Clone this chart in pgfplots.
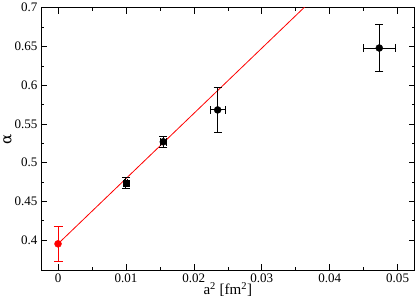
\documentclass[border=0pt]{standalone}
\usepackage{pgfplots}
\pgfplotsset{compat=1.18}
\usepackage{fontspec}
\setmainfont{Liberation Serif}
\begin{document}
\begin{tikzpicture}
\begin{axis}[
  scale only axis,
  width=373pt, height=262pt,
  xmin=-0.0025, xmax=0.0525,
  ymin=0.361, ymax=0.7,
  scaled x ticks=false, scaled y ticks=false,
  /pgf/number format/assume math mode=true,
  xtick={0,0.01,0.02,0.03,0.04,0.05},
  xticklabels={0,0.01,0.02,0.03,0.04,0.05},
  ytick={0.4,0.45,0.5,0.55,0.6,0.65,0.7},
  yticklabels={0.4,0.45,0.5,0.55,0.6,0.65,0.7},
  tick label style={font=\fontsize{13}{15}\selectfont},
  label style={font=\fontsize{15}{17}\selectfont},
  minor x tick num=1,
  minor y tick num=1,
  tick align=inside,
  major tick length=6pt,
  minor tick length=3pt,
  xlabel={a\textsuperscript{2} [fm\textsuperscript{2}]},
  ylabel={\fontspec{DejaVu Serif}\char"03B1},
  xlabel style={yshift=7pt},
  ylabel style={yshift=-4pt},
  axis line style={line width=0.8pt},
  tick style={black, line width=0.6pt},
  clip=true,
]
\addplot[red, line width=0.8pt] coordinates {(0,0.395) (0.0362,0.7) (0.04,0.732)};
\addplot[red, only marks, mark=*, mark size=3.5pt,
  error bars/.cd, y dir=both, y explicit, error bar style={line width=0.9pt}, error mark options={rotate=90, mark size=4.5pt, line width=0.9pt}]
  coordinates {(0,0.395) +- (0,0.0225)};
\addplot[black, only marks, mark=square*, mark size=3pt,
  error bars/.cd, y dir=both, y explicit, x dir=both, x explicit, error bar style={line width=0.9pt}, error mark options={rotate=90, mark size=4pt, line width=0.9pt}]
  coordinates {(0.01,0.4735) +- (0.0002,0.0075)};
\addplot[black, only marks, mark=*, mark size=3.5pt,
  error bars/.cd, y dir=both, y explicit, x dir=both, x explicit, error bar style={line width=0.9pt}, error mark options={rotate=90, mark size=4pt, line width=0.9pt}]
  coordinates {(0.0155,0.5268) +- (0.0004,0.007)
               (0.0235,0.568) +- (0.0011,0.0285)
               (0.0473,0.648) +- (0.00235,0.030)};
\end{axis}
\end{tikzpicture}
\end{document}
